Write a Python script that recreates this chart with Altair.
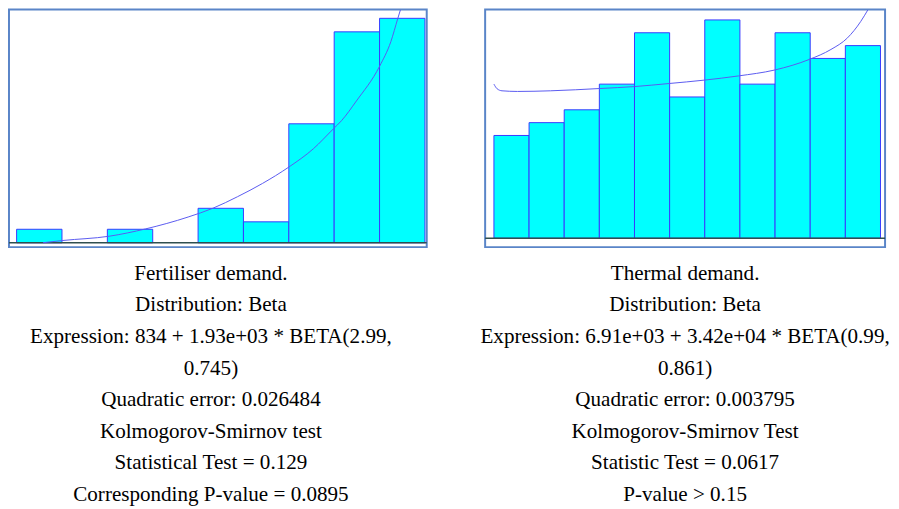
import altair as alt
import pandas as pd

# ---------------- data ----------------
# Fertiliser demand: 9 histogram classes (class index 0..8)
fert_bin = [0, 1, 2, 3, 4, 5, 6, 7, 8]
fert_count = [2.0, 0.0, 2.0, 0.0, 5.1, 3.1, 17.6, 31.2, 33.2]
# fitted Beta density curve (x in class units, y in count units), up to where it leaves the frame
fert_curve_x = [0.58, 1.02, 2.04, 2.84, 3.78, 4.33, 4.87, 5.42, 6.00, 6.54, 6.98, 7.16, 7.49, 8.00, 8.25, 8.40, 8.46]
fert_curve_y = [0.01, 0.34, 0.97, 2.05, 3.81, 5.12, 6.82, 8.78, 11.2, 13.9, 16.84, 18.05, 20.98, 26.1, 29.77, 33.13, 34.45]

# Thermal demand: 11 histogram classes
therm_bin = [0, 1, 2, 3, 4, 5, 6, 7, 8, 9, 10]
therm_count = [8, 9, 10, 12, 16, 11, 17, 12, 16, 14, 15]
therm_curve_x = [0.0, 0.09, 0.23, 0.67, 1.61, 3.02, 4.00, 4.99, 5.98, 6.96, 7.99, 8.98, 9.59, 10.06, 10.44, 10.64]
therm_curve_y = [12.0, 11.64, 11.48, 11.43, 11.48, 11.66, 11.81, 12.05, 12.31, 12.64, 13.10, 13.93, 14.70, 15.60, 16.89, 17.78]

fert_text = [
    "Fertiliser demand.",
    "Distribution: Beta",
    "Expression: 834 + 1.93e+03 * BETA(2.99,",
    "0.745)",
    "Quadratic error: 0.026484",
    "Kolmogorov-Smirnov test",
    "Statistical Test = 0.129",
    "Corresponding P-value = 0.0895",
]
therm_text = [
    "Thermal demand.",
    "Distribution: Beta",
    "Expression: 6.91e+03 + 3.42e+04 * BETA(0.99,",
    "0.861)",
    "Quadratic error: 0.003795",
    "Kolmogorov-Smirnov Test",
    "Statistic Test = 0.0617",
    "P-value > 0.15",
]

# ---------------- styling ----------------
BAR_FILL = "#00ffff"
BAR_STROKE = "#3a3aff"
CURVE = "#5a5af0"
BASE = "#2f4f4f"
FONT = "Liberation Serif, Times New Roman, Times, serif"


def panel(bins, counts, cx, cy, xdom, ydom, w, h, lines, dx):
    bars = pd.DataFrame({"x0": bins, "x1": [b + 1 for b in bins], "count": counts})
    bars = bars[bars["count"] > 0].copy()
    bars["zero"] = 0.0
    base_df = pd.DataFrame({"zero": [0.0]})
    curve = pd.DataFrame({"x": cx, "y": cy})
    xs = alt.Scale(domain=xdom, nice=False, zero=False)
    ys = alt.Scale(domain=ydom, nice=False, zero=False)

    hist = (
        alt.Chart(bars)
        .mark_rect(fill=BAR_FILL, stroke=BAR_STROKE, strokeWidth=1, opacity=1)
        .encode(
            x=alt.X("x0:Q", scale=xs, axis=None),
            x2="x1:Q",
            y=alt.Y("count:Q", scale=ys, axis=None),
            y2="zero:Q",
        )
    )
    base = (
        alt.Chart(base_df)
        .mark_rule(color=BASE, strokeWidth=1.5)
        .encode(y=alt.Y("zero:Q", scale=ys, axis=None))
    )
    line = (
        alt.Chart(curve)
        .mark_line(color=CURVE, strokeWidth=1, clip=True, interpolate="monotone")
        .encode(x=alt.X("x:Q", scale=xs, axis=None), y=alt.Y("y:Q", scale=ys, axis=None))
    )
    return alt.layer(hist, base, line).properties(
        width=w,
        height=h,
        title=alt.TitleParams(
            text=lines,
            orient="bottom",
            anchor="middle",
            font=FONT,
            fontSize=21.3,
            fontWeight="normal",
            color="black",
            lineHeight=31.9,
            offset=16,
            dx=dx,
        ),
    )


left = panel(fert_bin, fert_count, fert_curve_x, fert_curve_y,
             [-0.168, 9.04], [-0.64, 34.5], 422, 240, fert_text, -7.0)
right = panel(therm_bin, therm_count, therm_curve_x, therm_curve_y,
              [-0.25, 11.13], [-0.695, 17.81], 404, 240, therm_text, 0)

chart = (
    alt.hconcat(left, right, spacing=59, bounds="flush")
    .properties(padding={"left": -1, "top": -2, "right": 0, "bottom": 0}, background="white")
    .configure_view(stroke="#5a85c8", strokeWidth=2)
)

chart.save("out.html", embed_options={"renderer": "svg", "actions": False})
